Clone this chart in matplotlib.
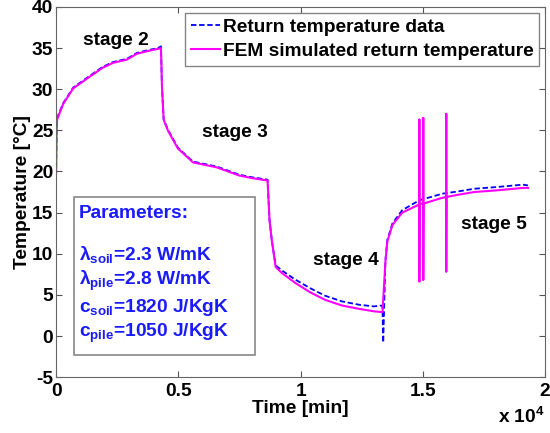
import numpy as np
import matplotlib
matplotlib.use("Agg")
import matplotlib.pyplot as plt
from matplotlib.patches import Rectangle
from matplotlib.ticker import FuncFormatter

plt.rcParams["font.family"] = ["Liberation Sans", "DejaVu Sans"]
plt.rcParams["font.weight"] = "bold"
plt.rcParams["axes.unicode_minus"] = False
plt.rcParams["mathtext.fontset"] = "custom"
plt.rcParams["mathtext.rm"] = "Liberation Sans:bold"
plt.rcParams["mathtext.it"] = "Liberation Sans:bold"
plt.rcParams["mathtext.bf"] = "Liberation Sans:bold"

FS = 13.8

# ── data (time in minutes, temperature in °C) ──
t_meas = [0, 20, 40, 290, 700, 1270, 1900, 2330, 2900, 3300, 3700, 4160, 4290,
          4330, 4400, 4570, 4980, 5600, 6570, 7500, 8000, 8650, 8730, 8820,
          8980, 9220, 9760, 10400, 11000, 11700, 12400, 13000, 13300, 13350,
          13380, 13470, 13550, 13760, 14160, 14860, 15800, 16500, 17100, 18000,
          19100, 19300]
T_meas = [19.5, 25.1, 26.5, 28.3, 30.2, 31.4, 32.7, 33.3, 33.7, 34.4, 34.7, 35.0, 35.2,
          30.3, 26.3, 25.1, 22.9, 21.2, 20.6, 19.6, 19.3, 19.0, 14.1, 11.7,
          8.6, 8.0, 6.9, 5.8, 4.9, 4.2, 3.8, 3.6, 3.7, 3.6,
          -0.8, 9.2, 11.7, 13.7, 15.3, 16.5, 17.3, 17.6, 17.9, 18.1,
          18.4, 18.3]

t_sim = [0, 20, 40, 290, 700, 1270, 1900, 2330, 2900, 3300, 3700, 4160, 4290,
         4330, 4400, 4570, 4980, 5600, 6570, 7500, 8000, 8650, 8730, 8820,
         8980, 9220, 9760, 10400, 11000, 11700, 12400, 13000, 13350,
         13470, 13550, 13760, 14160,
         14860, 14860, 14860, 14870,
         15020, 15020, 15020, 15030,
         15800,
         15960, 15960, 15960, 15970,
         16500, 17100, 18000, 19100, 19300]
T_sim = [19.8, 25.0, 26.3, 28.2, 30.1, 31.3, 32.6, 33.2, 33.6, 34.3, 34.6, 34.9, 35.0,
         30.3, 26.3, 25.0, 22.8, 21.1, 20.5, 19.5, 19.2, 18.9, 14.1, 11.7,
         8.4, 7.7, 6.5, 5.3, 4.4, 3.7, 3.3, 3.0, 2.9,
         9.0, 11.5, 13.5, 15.0,
         16.0, 26.3, 6.6, 16.05,
         16.1, 26.5, 6.8, 16.1,
         16.8,
         16.9, 27.0, 7.8, 16.9,
         17.2, 17.5, 17.7, 18.0, 18.0]

stage_labels = ["stage 2", "stage 3", "stage 4", "stage 5"]
stage_x = [2450, 7300, 11850, 17900]
stage_y = [35.9, 24.7, 9.2, 13.6]

param_lines = ["Parameters:",
               r"$\lambda_{soil}$=2.3 W/mK",
               r"$\lambda_{pile}$=2.8 W/mK",
               r"$c_{soil}$=1820 J/KgK",
               r"$c_{pile}$=1050 J/KgK"]
param_y = [0.443, 0.330, 0.259, 0.189, 0.119]

# ── figure ──
fig = plt.figure(figsize=(5.5, 4.33), dpi=100)
ax = fig.add_axes([0.102, 0.129, 0.889, 0.855])

ax.plot(t_meas, T_meas, color="#0000ff", lw=1.3, linestyle=(0, (3, 1.5)),
        label="Return temperature data")
ax.plot(t_sim, T_sim, color="#ff00ff", lw=1.5,
        label="FEM simulated return temperature")

ax.set_xlim(0, 20000)
ax.set_ylim(-5, 40)
ax.set_xticks([0, 5000, 10000, 15000, 20000])
ax.set_yticks(np.arange(-5, 41, 5))
ax.xaxis.set_major_formatter(FuncFormatter(lambda v, p: f"{v/1e4:g}"))
ax.tick_params(direction="in", top=True, right=True, labelsize=FS,
               length=4, color="#555555", pad=2)
ax.tick_params(axis="x", pad=4)
for s in ax.spines.values():
    s.set_color("#666666")

ax.set_xlabel("Time [min]", fontsize=FS, fontweight="bold", labelpad=0)
ax.set_ylabel("Temperature [\u00b0C]", fontsize=FS, fontweight="bold", labelpad=1)
ax.text(1.0, -0.124, r"x 10$^{4}$", transform=ax.transAxes, ha="right",
        va="baseline", fontsize=FS, fontweight="bold")

for lbl, x, y in zip(stage_labels, stage_x, stage_y):
    ax.text(x, y, lbl, ha="center", va="center", fontsize=FS, fontweight="bold")

# parameters box
ax.add_patch(Rectangle((0.037, 0.059), 0.370, 0.427, transform=ax.transAxes,
                       facecolor="white", edgecolor="#888888", lw=1.2, zorder=3))
for txt, y in zip(param_lines, param_y):
    ax.text(0.047, y, txt, transform=ax.transAxes, ha="left", va="center",
            fontsize=FS, fontweight="bold", color="#1a1aff", zorder=4)

leg = ax.legend(loc="upper right", fontsize=FS, frameon=True, fancybox=False,
                borderpad=0.3, handlelength=1.5, handletextpad=0.15,
                labelspacing=0.35, borderaxespad=0.3)
leg.get_frame().set_edgecolor("#666666")
leg.get_frame().set_linewidth(1.0)

fig.savefig("out.png", dpi=100)
